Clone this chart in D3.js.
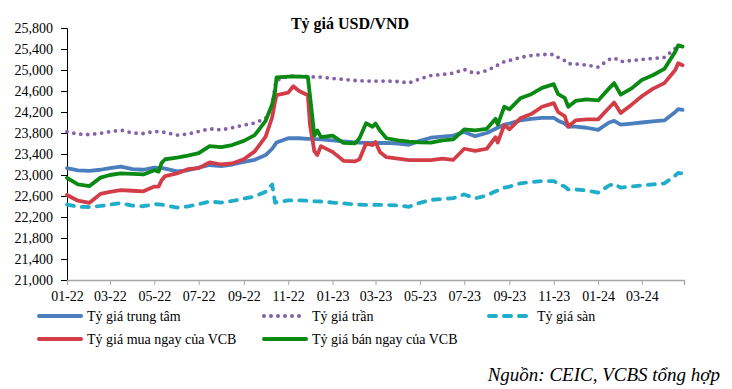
<!DOCTYPE html>
<html lang="vi">
  <head>
    <meta charset="utf-8">
    <script src="https://d3js.org/d3.v7.min.js"></script>
    <style>
      body { margin: 0; background: #fff; }
      svg text { font-family: "Liberation Serif", "Times New Roman", serif; fill: #000; }
    </style>
  </head>
  <body>
    <svg id="chart"></svg>

    <script type="text/javascript">

     // dates (half-monthly, plus a few extra points where the lines jump)
     var dates = ["2022-01-01","2022-01-16","2022-02-01","2022-02-16","2022-03-01","2022-03-16","2022-04-01","2022-04-16","2022-05-01","2022-05-07","2022-05-11","2022-05-16",
       "2022-06-01","2022-06-16","2022-07-01","2022-07-16","2022-08-01","2022-08-16","2022-09-01","2022-09-16",
       "2022-10-01","2022-10-10","2022-10-14","2022-10-16","2022-11-01","2022-11-08","2022-11-16","2022-11-28",
       "2022-12-01","2022-12-07","2022-12-11","2022-12-16","2023-01-01","2023-01-16",
       "2023-02-01","2023-02-07","2023-02-16","2023-02-25","2023-03-01","2023-03-07","2023-03-16",
       "2023-04-01","2023-04-16","2023-05-01","2023-05-16","2023-06-01","2023-06-16","2023-07-01","2023-07-16",
       "2023-08-01","2023-08-13","2023-08-16","2023-08-25","2023-09-01","2023-09-16","2023-10-01","2023-10-16",
       "2023-11-01","2023-11-07","2023-11-16","2023-11-21","2023-12-01","2023-12-16",
       "2024-01-01","2024-01-16","2024-01-23","2024-02-01","2024-02-16","2024-03-01","2024-03-16",
       "2024-04-01","2024-04-16","2024-04-20","2024-04-26"];

     var central = [23130,23090,23080,23100,23130,23160,23110,23100,23140,23135,23130,23120,
       23070,23090,23140,23190,23170,23200,23250,23290,
       23380,23500,23580,23620,23700,23700,23700,23690,
       23690,23685,23682,23680,23660,23640,
       23620,23615,23610,23610,23610,23610,23610,
       23600,23575,23650,23710,23730,23750,23820,23740,
       23800,23880,23900,23960,23980,24040,24070,24090,
       24090,24035,23980,23920,23920,23900,
       23860,24000,24030,23960,23980,24000,24020,
       24040,24200,24255,24240];

     var ceiling = [23825,23780,23770,23795,23825,23855,23800,23790,23830,23825,23820,23810,
       23760,23780,23830,23880,23860,23900,23950,23990,
       24080,24300,24700,24800,24885,24885,24880,24875,
       24870,24868,24866,24865,24840,24820,
       24800,24795,24790,24790,24790,24790,24790,
       24780,24755,24830,24895,24915,24940,25010,24930,
       24990,25070,25095,25160,25180,25240,25275,25295,
       25295,25240,25180,25120,25115,25095,
       25055,25200,25230,25160,25180,25200,25220,
       25240,25410,25465,25450];

     var floor = [22435,22395,22390,22410,22435,22465,22415,22405,22445,22440,22435,22425,
       22380,22400,22445,22495,22475,22505,22550,22590,
       22680,22820,22470,22480,22515,22515,22515,22510,
       22505,22500,22498,22495,22475,22460,
       22440,22435,22430,22430,22430,22430,22430,
       22420,22395,22470,22525,22545,22560,22630,22555,
       22610,22690,22705,22760,22780,22840,22865,22885,
       22885,22835,22780,22725,22725,22705,
       22665,22800,22830,22760,22780,22800,22820,
       22840,22990,23040,23030];

     var buyVCB = [22620,22510,22470,22640,22680,22710,22700,22690,22780,22780,22900,22980,
       23030,23110,23130,23240,23200,23220,23300,23450,
       23730,24100,24400,24520,24570,24690,24600,24520,
       23950,23450,23380,23550,23440,23270,
       23260,23300,23600,23570,23630,23440,23340,
       23310,23285,23285,23285,23310,23290,23500,23460,
       23500,23720,23620,23950,23870,24080,24160,24300,
       24370,24200,24120,23920,24040,24060,
       24060,24280,24380,24180,24340,24500,24640,
       24750,25000,25130,25090];

     var sellVCB = [22945,22820,22790,22950,23000,23030,23020,23010,23090,23065,23230,23300,
       23330,23370,23415,23550,23530,23570,23650,23760,
       24030,24350,24600,24860,24875,24880,24875,24870,
       24500,23750,23850,23720,23750,23610,
       23605,23700,23985,23920,23980,23850,23700,
       23660,23635,23620,23615,23660,23680,23870,23850,
       23880,24070,23960,24300,24250,24460,24540,24660,
       24730,24540,24470,24300,24410,24440,
       24420,24650,24750,24530,24650,24810,24900,
       25020,25350,25470,25445];

     var yTicks = [21000,21400,21800,22200,22600,23000,23400,23800,24200,24600,25000,25400,25800];

     var seriesNames = ["Tỷ giá trung tâm","Tỷ giá trần","Tỷ giá sàn","Tỷ giá mua ngay của VCB","Tỷ giá bán ngay của VCB"];
     var seriesColors = ["#4a7ebf","#8460a8","#1fadc9","#d33d48","#0a8a12"];

     var width = 732;
     var height = 389;
     var parse = d3.timeParse("%Y-%m-%d");
     var dateObjs = dates.map(parse);

     var svg = d3.select("#chart")
       .attr("width",width)
       .attr("height",height);

     var x = d3.scaleTime()
       .domain([parse("2022-01-01"), parse("2024-04-28")])
       .range([67, 684]);

     var y = d3.scaleLinear()
       .domain([21000, 25800])
       .range([280, 28]);

     // title
     svg.append("text")
       .attr("x",350)
       .attr("y",29)
       .attr("text-anchor","middle")
       .style("font-size","16px")
       .style("font-weight","bold")
       .text("Tỷ giá USD/VND");

     // y axis
     var yAxis = svg.append("g")
       .attr("transform","translate(67,0)")
       .call(d3.axisLeft(y).tickValues(yTicks).tickFormat(d3.format(",")).tickSize(6).tickPadding(8));
     yAxis.select(".domain").attr("stroke","#000");
     yAxis.selectAll("line").attr("stroke","#000");
     yAxis.selectAll("text").style("font-size","14px").style("font-family","Liberation Serif, serif");

     // x axis
     var xAxis = svg.append("g")
       .attr("transform","translate(0,280)")
       .call(d3.axisBottom(x)
         .tickValues(d3.timeMonth.every(2).range(parse("2022-01-01"), parse("2024-04-02")))
         .tickFormat(d3.timeFormat("%m-%y"))
         .tickSizeOuter(0)
         .tickSize(5)
         .tickPadding(6));
     xAxis.select(".domain").attr("stroke","#a6a6a6").attr("stroke-width",1.3);
     xAxis.selectAll("line").attr("stroke","#a6a6a6");
     xAxis.selectAll("text").style("font-size","14px").style("font-family","Liberation Serif, serif");

     var allSeries = [central, ceiling, floor, buyVCB, sellVCB];
     var dashes = [null, "0,7", "7,8", null, null];

     var line = d3.line()
       .x(function(d){ return x(d.date); })
       .y(function(d){ return y(d.value); });

     allSeries.forEach(function(vals, k)
     {
       var pts = vals.map(function(v, i){ return {date: dateObjs[i], value: v}; });
       svg.append("path")
         .datum(pts)
         .attr("fill","none")
         .attr("stroke",seriesColors[k])
         .attr("stroke-width",3.8)
         .attr("stroke-linejoin","round")
         .attr("stroke-linecap","round")
         .attr("stroke-dasharray",dashes[k])
         .attr("d",line);
     });

     // legend
     var legendPos = [[37,316],[262,316],[487,316],[37,339],[262,339]];
     legendPos.forEach(function(p, k)
     {
       var g = svg.append("g").attr("transform","translate(" + p[0] + "," + p[1] + ")");
       g.append("line")
         .attr("x1",2).attr("x2",44)
         .attr("y1",0).attr("y2",0)
         .attr("stroke",seriesColors[k])
         .attr("stroke-width",4)
         .attr("stroke-linecap","round")
         .attr("stroke-dasharray",dashes[k]);
       g.append("text")
         .attr("x",50)
         .attr("y",5)
         .style("font-size","14px")
         .text(seriesNames[k]);
     });

     // source
     svg.append("text")
       .attr("x",720)
       .attr("y",381)
       .attr("text-anchor","end")
       .style("font-size","19px")
       .style("font-style","italic")
       .text("Nguồn: CEIC, VCBS tổng hợp");

    </script>
  </body>
</html>
